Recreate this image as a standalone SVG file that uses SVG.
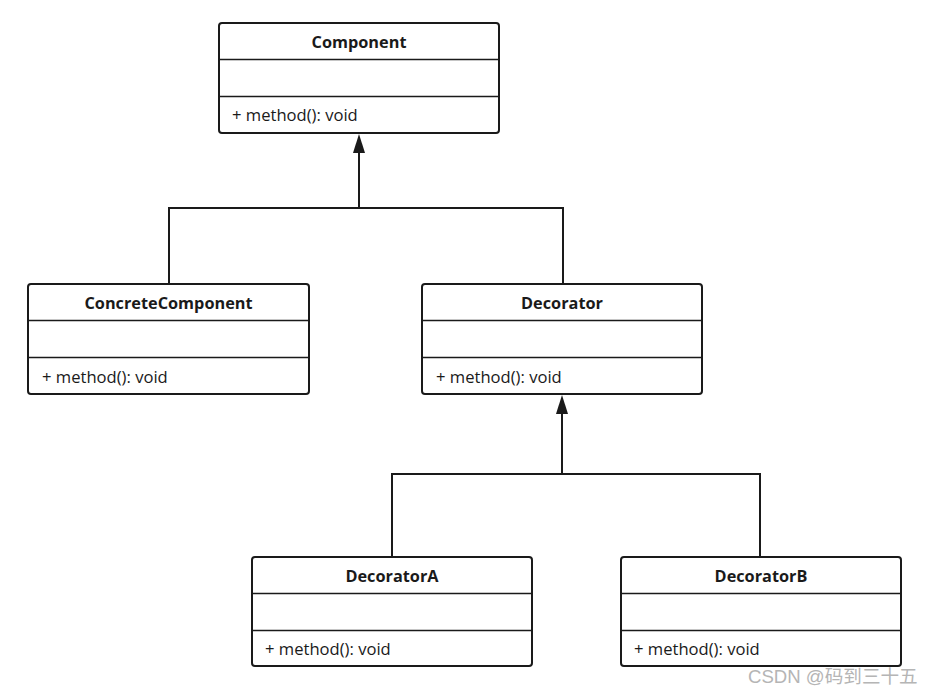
<svg xmlns="http://www.w3.org/2000/svg" width="934" height="695" viewBox="0 0 934 695">
<style>
.box{fill:#fff;stroke:#1a1a1a;stroke-width:2}
.div{stroke:#1a1a1a;stroke-width:1.5}
.t{font-family:"Open Sans","Noto Sans",sans-serif;font-size:16.3px;font-weight:bold;fill:#1a1a1a;text-anchor:middle}
.m{font-family:"Open Sans","Noto Sans",sans-serif;font-size:16.6px;fill:#1a1a1a}
.c{fill:none;stroke:#1a1a1a;stroke-width:2}
.wm{font-family:"Liberation Sans","Noto Sans CJK SC",sans-serif;font-size:18.6px;fill:#b5b5b5}
</style>
<rect width="934" height="695" fill="#fff"/>
<g id="connectors">
<path class="c" d="M169 284 V208 H563 V284"/>
<path class="c" d="M359 208 V152"/>
<path d="M359 134 L365 153 L353 153 Z" fill="#1a1a1a"/>
<path class="c" d="M392 557 V474 H760 V557"/>
<path class="c" d="M562 474 V413"/>
<path d="M562 395 L568 414 L556 414 Z" fill="#1a1a1a"/>
</g>
<g id="Component">
<rect class="box" x="219" y="23" width="280" height="110" rx="3"/>
<line class="div" x1="219" y1="59.5" x2="499" y2="59.5"/>
<line class="div" x1="219" y1="96.5" x2="499" y2="96.5"/>
<text class="t" x="359" y="47.5">Component</text>
<text class="m" x="232" y="120.5">+ method(): void</text>
</g>
<g id="ConcreteComponent">
<rect class="box" x="28" y="284" width="281" height="110" rx="3"/>
<line class="div" x1="28" y1="320.5" x2="309" y2="320.5"/>
<line class="div" x1="28" y1="357.5" x2="309" y2="357.5"/>
<text class="t" x="168.5" y="308.5">ConcreteComponent</text>
<text class="m" x="42" y="382.5">+ method(): void</text>
</g>
<g id="Decorator">
<rect class="box" x="422" y="284" width="280" height="110" rx="3"/>
<line class="div" x1="422" y1="320.5" x2="702" y2="320.5"/>
<line class="div" x1="422" y1="357.5" x2="702" y2="357.5"/>
<text class="t" x="562" y="308.5">Decorator</text>
<text class="m" x="436" y="382.5">+ method(): void</text>
</g>
<g id="DecoratorA">
<rect class="box" x="252" y="557" width="280" height="109" rx="3"/>
<line class="div" x1="252" y1="593.5" x2="532" y2="593.5"/>
<line class="div" x1="252" y1="630.5" x2="532" y2="630.5"/>
<text class="t" x="392" y="581.5">DecoratorA</text>
<text class="m" x="265" y="654.5">+ method(): void</text>
</g>
<g id="DecoratorB">
<rect class="box" x="621" y="557" width="280" height="109" rx="3"/>
<line class="div" x1="621" y1="593.5" x2="901" y2="593.5"/>
<line class="div" x1="621" y1="630.5" x2="901" y2="630.5"/>
<text class="t" x="761" y="581.5">DecoratorB</text>
<text class="m" x="634" y="654.5">+ method(): void</text>
</g>
<text class="wm" x="748" y="683">CSDN @码到三十五</text>
</svg>
